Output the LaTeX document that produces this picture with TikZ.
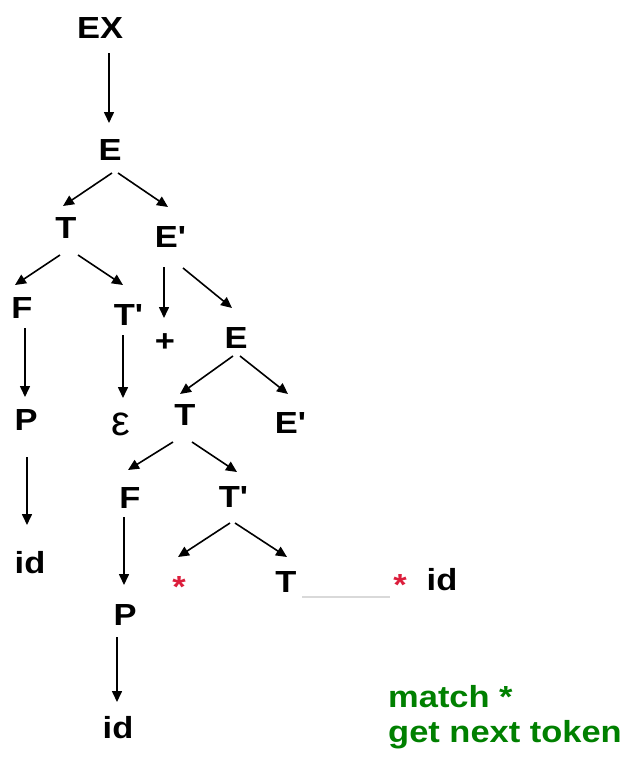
\documentclass[tikz,border=0pt]{standalone}
\usepackage{fontspec}
\setmainfont{Liberation Sans}[FakeStretch=1.13]
\newfontfamily\epsfont{Liberation Sans}
\usetikzlibrary{arrows.meta}
\definecolor{tokgreen}{RGB}{0,128,0}
\definecolor{starred}{RGB}{220,30,60}
\begin{document}
\begin{tikzpicture}[x=1pt,y=-1pt,
  lbl/.style={inner sep=0pt, anchor=base, font=\bfseries\fontsize{30.5}{36}\selectfont},
  epsstyle/.style={inner sep=0pt, anchor=base, font=\epsfont\fontsize{42}{48}\selectfont},
  redstar/.style={lbl, text=starred},
  note/.style={inner sep=0pt, anchor=base west, text=tokgreen, font=\bfseries\fontsize{30.5}{36}\selectfont},
  arr/.style={line width=1.6pt, -{Triangle[length=11pt,width=10pt]}},
  faint/.style={gray!30, line width=2pt}]
\useasboundingbox (0,0) rectangle (629,761);
\fill[white] (0,0) rectangle (629,761);

% nodes
\node[lbl] (ex)  at (100,38)  {EX};
\node[lbl] (e1)  at (110,160) {E};
\node[lbl] (t1)  at (66,238)  {T};
\node[lbl] (ep1) at (170,247) {E\textquotesingle};
\node[lbl] (f1)  at (22,318)  {F};
\node[lbl] (tp1) at (128,325) {T\textquotesingle};
\node[lbl] (plus) at (165,351) {+};
\node[lbl] (e2)  at (236,348) {E};
\node[lbl] (p1)  at (26,430)  {P};
\node[epsstyle] (eps) at (121,435) {ε};
\node[lbl] (t2)  at (185,425) {T};
\node[lbl] (ep2) at (290,433) {E\textquotesingle};
\node[lbl] (f2)  at (130,508) {F};
\node[lbl] (tp2) at (233,507) {T\textquotesingle};
\node[lbl] (id1) at (30,573)  {id};
\node[redstar] (st1) at (179,597) {*};
\node[lbl] (t3)  at (286,592) {T};
\node[redstar] (st2) at (400,595) {*};
\node[lbl] (id3) at (442,590) {id};
\node[lbl] (p2)  at (125,625) {P};
\node[lbl] (id2) at (118,738) {id};
\node[note] (m1) at (388,707) {match *};
\node[note] (m2) at (388,742) {get next token};

% connectors
\draw[arr] ([shift={(9,15)}]ex.base) -- ([shift={(-1,-37)}]e1.base);
\draw[arr] ([shift={(2,13)}]e1.base) -- ([shift={(-3,-32)}]t1.base);
\draw[arr] ([shift={(8,13)}]e1.base) -- ([shift={(-2,-40)}]ep1.base);
\draw[arr] ([shift={(-6,17)}]t1.base) -- ([shift={(-7,-33)}]f1.base);
\draw[arr] ([shift={(12,17)}]t1.base) -- ([shift={(-5,-40)}]tp1.base);
\draw[arr] ([shift={(-6,20)}]ep1.base) -- ([shift={(-1,-33)}]plus.base);
\draw[arr] ([shift={(13,21)}]ep1.base) -- ([shift={(-4,-40)}]e2.base);
\draw[arr] ([shift={(3,10)}]f1.base) -- ([shift={(-1,-33)}]p1.base);
\draw[arr] ([shift={(-5,10)}]tp1.base) -- ([shift={(2,-37)}]eps.base);
\draw[arr] ([shift={(-3,8)}]e2.base) -- ([shift={(-5,-31)}]t2.base);
\draw[arr] ([shift={(4,8)}]e2.base) -- ([shift={(-2,-39)}]ep2.base);
\draw[arr] ([shift={(1,27)}]p1.base) -- ([shift={(-3,-48)}]id1.base);
\draw[arr] ([shift={(-12,17)}]t2.base) -- ([shift={(-2,-38)}]f2.base);
\draw[arr] ([shift={(7,17)}]t2.base) -- ([shift={(4,-35)}]tp2.base);
\draw[arr] ([shift={(-6,9)}]f2.base) -- ([shift={(-1,-40)}]p2.base);
\draw[arr] ([shift={(-8,12)}]p2.base) -- ([shift={(-1,-36)}]id2.base);
\draw[arr] ([shift={(-3,16)}]tp2.base) -- ([shift={(-1,-40)}]st1.base);
\draw[arr] ([shift={(2,16)}]tp2.base) -- ([shift={(1,-35)}]t3.base);
\draw[faint] ([shift={(16,5)}]t3.base) -- ([shift={(-10,2)}]st2.base);
\end{tikzpicture}
\end{document}
